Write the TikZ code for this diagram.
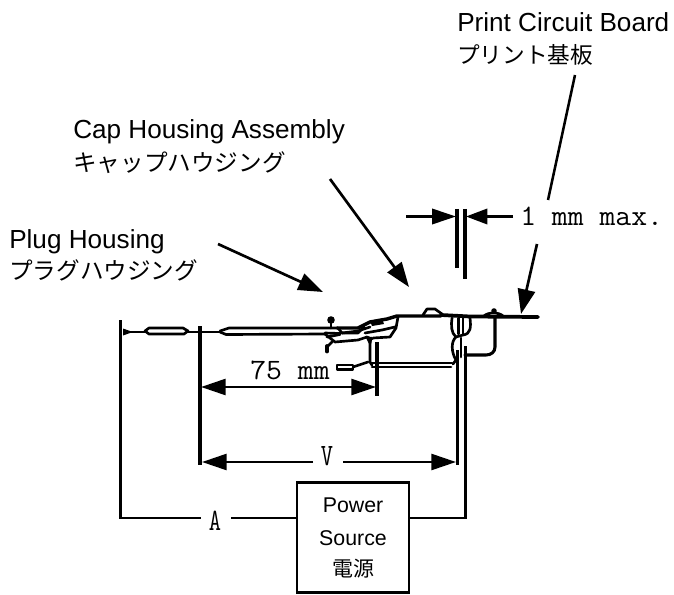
\documentclass[tikz,border=0pt]{standalone}
\usepackage{fontspec}
\usepackage{graphicx}
\setmainfont{Liberation Sans}
\newfontfamily\jpfont{Noto Sans CJK JP}
\usetikzlibrary{arrows.meta}
\tikzset{
  lab/.style={inner sep=0pt,anchor=base west,font=\fontsize{19.6pt}{22pt}\selectfont},
  jp/.style={inner sep=0pt,anchor=west,font=\fontsize{17.7pt}{20pt}\selectfont\jpfont},
  dim/.style={inner sep=0pt,font=\fontsize{22.2pt}{24pt}\selectfont\ttfamily},
  boxt/.style={inner sep=0pt,font=\fontsize{16pt}{18pt}\selectfont},
  ptr/.style={line width=2pt,-{Triangle[length=18.5pt,width=13pt]}},
  dimarrow/.style={line width=1.9pt,-{Triangle[length=18.5pt,width=12pt]}},
  wire/.style={line width=1.9pt},
  ext/.style={line width=2.3pt},
  part/.style={line width=2pt,line join=round,line cap=round},
}
\begin{document}
\begin{tikzpicture}[x=0.75pt,y=-0.75pt]
\useasboundingbox (0,0) rectangle (674,595);
% labels
\node[lab] (pcb) at (457,32) {Print Circuit Board};
\node[jp,font=\fontsize{17pt}{20pt}\selectfont\jpfont] (pcbj) at (457,55) {プリント基板};
\node[lab] (cap) at (73,139) {Cap Housing Assembly};
\node[jp] (capj) at (73,163) {キャップハウジング};
\node[lab] (plug) at (9,248) {Plug Housing};
\node[jp] (plugj) at (9,270) {プラグハウジング};
% pointers
\coordinate (p1a) at (218,244); \coordinate (p1b) at (323,292);
\coordinate (p2a) at (330,179); \coordinate (p2b) at (409,287);
\coordinate (p3a) at (575,75); \coordinate (p3b) at (548,200);
\coordinate (p4a) at (537,244); \coordinate (p4b) at (521,314);
\draw[ptr] (p1a) -- (p1b);
\draw[ptr] (p2a) -- (p2b);
\draw[line width=1.9pt] (p3a) -- (p3b);
\draw[ptr] (p4a) -- (p4b);
% 1 mm
\coordinate (t1) at (457,209); \coordinate (b1) at (457,268);
\coordinate (t2) at (465,209); \coordinate (b2) at (465,279);
\draw[ext] (t1) -- (b1);
\draw[ext] (t2) -- (b2);
\node[dim,anchor=base west] (mmx) at (520,226) {\scalebox{1.04}[1]{1 mm max.}};
\coordinate (a1) at (406,216.5); \coordinate (a1e) at (456,216.5);
\coordinate (a2) at (513,216.5); \coordinate (a2e) at (466,216.5);
\draw[line width=1.9pt,-{Triangle[length=18pt,width=11.5pt]}] (a1) -- (a1e);
\draw[line width=1.9pt,-{Triangle[length=16pt,width=11.5pt]}] (a2) -- (a2e);
% connector
\begin{scope}[part]
 % left wire and tubes
 \fill (123,328.5) -- (130,331) -- (130,333) -- (123,335.5) -- cycle;
 \draw (125,332) -- (145,332);
 \draw (145,331) -- (149,328) -- (183,328) -- (188,331) -- (184,334) -- (149,334) -- cycle;
 \draw (188,332) -- (220,332);
 \draw (220,331) -- (229,328) -- (338,328);
 \draw (220,332) -- (226,334.5) -- (325,334);
 % plug head
 \fill (331,320) circle (3.8);
 \draw (331,322) -- (331,328);
 \draw[line width=2.6pt] (337,328) -- (358,328) -- (370,322) -- (387,319) -- (397,316) -- (441,316);
 \fill (370,321) -- (382,318.5) -- (384,324) -- (372,326) -- cycle;
 \draw (338,328) -- (342,333) -- (358,333) -- (364,327);
 \draw (342,333) -- (358,331) -- (370,327);
 \draw (398,317) -- (396,328) -- (390,337) -- (373,338);
 \draw (365,333) -- (382,330) -- (395,327);
 \draw (325,333) -- (340,333.5);
 \draw (325,334) -- (335,342) -- (358,340) -- (367,337) -- (372,339);
 \draw (327,337) -- (340,334.5);
 \draw (332,342) -- (327,347);
 \draw[line width=2.8pt] (327,346) -- (327,351.5);
 \draw (367,337) -- (370,343) -- (371,338);
 % rail
 \draw (370,341) -- (370,362) -- (372,365);
 \draw (372,363) -- (452,363);
 \draw (372,367) -- (451,367);
 \draw (337,365) -- (353,365) -- (353,369.5) -- (337,369.5) -- cycle;
 \draw (353,367) -- (368,362);
 % cap bump and main line
 \draw (423,315) -- (427,309) -- (435,309) -- (442,314);
 \draw[line width=2.8pt] (441,315) -- (470,316.5) -- (538,317);
 \fill (494,311) circle (2.8);
 \draw (484,316) .. controls (488,312) and (499,312) .. (503,316);
 % crimp loops
 \draw (452,318) .. controls (451,325) and (451,333) .. (456,337) .. controls (451,341) and (451,352) .. (456,360) -- (453,364);
 \draw (470,318) .. controls (471,327) and (471,334) .. (463,335) -- (456,337);
 \draw (458.5,318) -- (458.5,334);
 \draw (463,318) -- (463,334);
 \draw (461,338) -- (461,357);
 % hook
 \draw[line width=2.3pt] (495,318) -- (495,347) .. controls (495,352) and (491,355) .. (486,355) -- (465,355);
\end{scope}
% dimensions
\coordinate (Lt) at (120.5,320); \coordinate (Lb) at (120.5,518);
\coordinate (Rt) at (465.5,347); \coordinate (Rb) at (465.5,518);
\coordinate (Vl) at (200,326); \coordinate (Vlb) at (200,465);
\coordinate (Vr) at (457.5,350); \coordinate (Vrb) at (457.5,465);
\coordinate (Mr) at (377,342); \coordinate (Mrb) at (377,396);
\draw[ext] (Vl) -- (Vlb);
\draw[ext] (Vr) -- (Vrb);
\draw[ext] (Mr) -- (Mrb);
\node[dim,anchor=base] (mm75) at (290,379) {\scalebox{1.04}[1]{75 mm}};
\coordinate (m1) at (201,387); \coordinate (m2) at (376,387);
\draw[line width=1.9pt,{Triangle[length=18.5pt,width=12pt]}-{Triangle[length=18.5pt,width=12pt]}] (m1) -- (m2);
\node[dim] (vv) at (327,456) {\scalebox{0.8}[1.05]{V}};
\coordinate (v1) at (202,462); \coordinate (v2) at (456,462);
\coordinate (v1e) at (313,462); \coordinate (v2e) at (343,462);
\draw[dimarrow] (v1e) -- (v1);
\draw[dimarrow] (v2e) -- (v2);
% power source
\node[draw,line width=2.2pt,inner sep=0pt,minimum width=84pt,minimum height=82pt] (src) at (353,537.5) {};
\node[boxt] (s1) at (353,505.7) {Power};
\node[boxt] (s2) at (353,538) {Source};
\node[boxt,font=\fontsize{15.7pt}{18pt}\selectfont\jpfont] (s3) at (353,569) {電源};
\node[dim] (aa) at (215,521) {\scalebox{0.8}[1.05]{A}};
\coordinate (w1) at (201,518);
\coordinate (w2) at (231,518);
\draw[line width=2.2pt,line join=miter] (Lt) -- (Lb);
\draw[wire] (Lb) ++(-1.4,0) -- (w1);
\draw[wire] (w2) -- (src.west |- w2);
\draw[line width=2.2pt,line cap=rect] (Rt) -- (Rb);
\draw[wire] (Rb) -- (src.east |- Rb);
\end{tikzpicture}
\end{document}
